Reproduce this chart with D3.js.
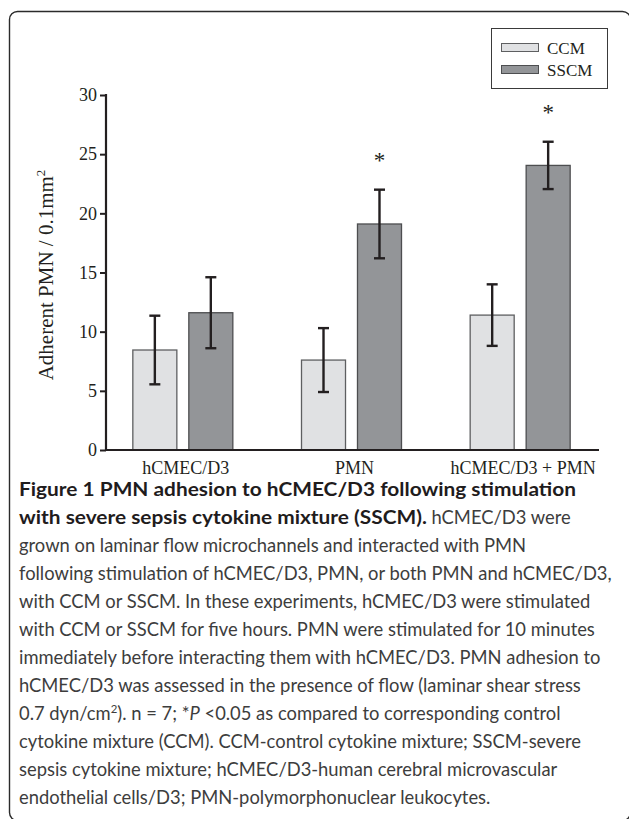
<!DOCTYPE html>
<html>
<head>
<meta charset="utf-8">
<script src="https://cdn.jsdelivr.net/npm/d3@7/dist/d3.min.js"></script>
<style>
  html, body { margin: 0; padding: 0; background: #fff; }
  svg { display: block; }
  text { white-space: pre; }
</style>
</head>
<body>
<svg id="chart" width="629" height="819"></svg>
<script>
// ---- data ----
const categories = ["hCMEC/D3", "PMN", "hCMEC/D3 + PMN"];
const seriesNames = ["CCM", "SSCM"];
const ccmValues = [8.45, 7.6, 11.4];
const ccmErrors = [2.9, 2.7, 2.6];
const sscmValues = [11.6, 19.1, 24.05];
const sscmErrors = [3.0, 2.9, 2.0];
const significant = [false, true, true]; // SSCM vs CCM
const yTicks = [0, 5, 10, 15, 20, 25, 30];

const captionLines = [
  [{t: "Figure 1 PMN adhesion to hCMEC/D3 following stimulation", b: true}],
  [{t: "with severe sepsis cytokine mixture (SSCM).", b: true}, {t: " hCMEC/D3 were"}],
  [{t: "grown on laminar flow microchannels and interacted with PMN"}],
  [{t: "following stimulation of hCMEC/D3, PMN, or both PMN and hCMEC/D3,"}],
  [{t: "with CCM or SSCM. In these experiments, hCMEC/D3 were stimulated"}],
  [{t: "with CCM or SSCM for five hours. PMN were stimulated for 10 minutes"}],
  [{t: "immediately before interacting them with hCMEC/D3. PMN adhesion to"}],
  [{t: "hCMEC/D3 was assessed in the presence of flow (laminar shear stress"}],
  [{t: "0.7 dyn/cm"}, {t: "2", sup: true}, {t: "). n = 7; *"}, {t: "P", i: true}, {t: " <0.05 as compared to corresponding control"}],
  [{t: "cytokine mixture (CCM). CCM-control cytokine mixture; SSCM-severe"}],
  [{t: "sepsis cytokine mixture; hCMEC/D3-human cerebral microvascular"}],
  [{t: "endothelial cells/D3; PMN-polymorphonuclear leukocytes."}]
];

const data = categories.map((c, i) => ({
  cat: c,
  vals: [
    {s: "CCM", v: ccmValues[i], e: ccmErrors[i]},
    {s: "SSCM", v: sscmValues[i], e: sscmErrors[i]}
  ],
  sig: significant[i]
}));

const svg = d3.select("#chart");
const serif = "'Liberation Serif', 'Times New Roman', serif";
const sans = "Lato, 'Open Sans', sans-serif";
const ink = "#231f20";

// ---- frame ----
svg.append("rect")
  .attr("x", 9.5).attr("y", 11.5)
  .attr("width", 621).attr("height", 809)
  .attr("rx", 8).attr("ry", 8)
  .attr("fill", "none").attr("stroke", "#2b2b2b").attr("stroke-width", 1.4);

// ---- scales ----
const axisLeft = 106, axisRight = 599, yTop = 95, yBottom = 450;
const y = d3.scaleLinear().domain([0, 30]).range([yBottom, yTop]);
const x0 = d3.scaleBand().domain(categories).range([98.5, 604.5]).paddingInner(0).paddingOuter(0);
const groupW = 101;
const x1 = d3.scaleBand().domain(seriesNames)
  .range([(x0.bandwidth() - groupW) / 2, (x0.bandwidth() + groupW) / 2])
  .paddingInner(0.196).paddingOuter(0);
const fills = {CCM: "#e0e1e3", SSCM: "#939598"};
const strokes = {CCM: "#5e5f61", SSCM: "#4d4e50"};

// ---- y axis ----
const yAxis = d3.axisLeft(y).tickValues(yTicks).tickSize(6).tickPadding(3).tickFormat(d3.format("d"));
const gy = svg.append("g").attr("transform", `translate(${axisLeft},0)`).call(yAxis);
gy.select(".domain").remove();
gy.selectAll(".tick line").attr("stroke", ink).attr("stroke-width", 2);
gy.selectAll(".tick text").attr("fill", ink).style("font-family", serif).style("font-size", "18px");
svg.append("line").attr("x1", axisLeft).attr("x2", axisLeft).attr("y1", yTop - 1).attr("y2", yBottom + 1)
  .attr("stroke", ink).attr("stroke-width", 2.2);

// ---- bars ----
const groups = svg.append("g").selectAll("g").data(data).join("g")
  .attr("transform", d => `translate(${x0(d.cat)},0)`);
groups.selectAll("rect").data(d => d.vals).join("rect")
  .attr("x", d => x1(d.s) + 0.5)
  .attr("y", d => y(d.v))
  .attr("width", x1.bandwidth() - 1)
  .attr("height", d => yBottom - y(d.v))
  .attr("fill", d => fills[d.s])
  .attr("stroke", d => strokes[d.s])
  .attr("stroke-width", 1.3);

// error bars
const cap = 5.5;
const eb = groups.selectAll("g.err").data(d => d.vals).join("g").attr("class", "err");
eb.append("line")
  .attr("x1", d => x1(d.s) + x1.bandwidth() / 2).attr("x2", d => x1(d.s) + x1.bandwidth() / 2)
  .attr("y1", d => y(d.v + d.e)).attr("y2", d => y(d.v - d.e));
eb.append("line")
  .attr("x1", d => x1(d.s) + x1.bandwidth() / 2 - cap).attr("x2", d => x1(d.s) + x1.bandwidth() / 2 + cap)
  .attr("y1", d => y(d.v + d.e)).attr("y2", d => y(d.v + d.e));
eb.append("line")
  .attr("x1", d => x1(d.s) + x1.bandwidth() / 2 - cap).attr("x2", d => x1(d.s) + x1.bandwidth() / 2 + cap)
  .attr("y1", d => y(d.v - d.e)).attr("y2", d => y(d.v - d.e));
eb.selectAll("line").attr("stroke", ink).attr("stroke-width", 2.4);

// significance asterisks
groups.filter(d => d.sig).append("text")
  .attr("x", x1("SSCM") + x1.bandwidth() / 2)
  .attr("y", d => y(d.vals[1].v + d.vals[1].e) - 22)
  .attr("text-anchor", "middle")
  .style("font-family", serif).style("font-size", "23px").attr("fill", ink)
  .text("*");

// ---- x axis ----
svg.append("line").attr("x1", axisLeft - 1).attr("x2", axisRight).attr("y1", yBottom).attr("y2", yBottom)
  .attr("stroke", ink).attr("stroke-width", 2.2);
svg.append("g").selectAll("text").data(categories).join("text")
  .attr("x", d => x0(d) + x0.bandwidth() / 2 + 3)
  .attr("y", 474)
  .attr("text-anchor", "middle")
  .style("font-family", serif).style("font-size", "18px").attr("fill", ink)
  .text(d => d);

// ---- y title ----
const yt = svg.append("text")
  .attr("transform", "translate(53,275) rotate(-90)")
  .attr("text-anchor", "middle")
  .style("font-family", serif).style("font-size", "21px").attr("fill", ink);
yt.append("tspan").text("Adherent PMN / 0.1mm");
yt.append("tspan").attr("dy", -8).style("font-size", "13px").text("2");

// ---- legend ----
const lg = svg.append("g");
lg.append("rect").attr("x", 491.5).attr("y", 28.5).attr("width", 116).attr("height", 60)
  .attr("fill", "#fff").attr("stroke", "#3a3a3a").attr("stroke-width", 1);
seriesNames.forEach((s, i) => {
  lg.append("rect").attr("x", 501.5).attr("y", 43.5 + i * 22).attr("width", 37).attr("height", 8)
    .attr("fill", fills[s]).attr("stroke", strokes[s]).attr("stroke-width", 1);
  lg.append("text").attr("x", 547).attr("y", 53.5 + i * 22)
    .style("font-family", serif).style("font-size", "17px").attr("fill", ink).text(s);
});

// ---- caption ----
const capX = 19, capY0 = 496, capDy = 28;
const capG = svg.append("g");
function measure(str, fs, bold, italic) {
  const t = capG.append("text").style("font-family", sans).style("font-size", fs + "px")
    .style("font-weight", bold ? "bold" : "normal").style("font-style", italic ? "italic" : "normal")
    .text(str);
  const w = t.node().getComputedTextLength();
  t.remove();
  return w;
}
const fs = 20 * (612 - capX) / measure(captionLines[3][0].t, 20, false, false);
const kb = (576 - capX) / measure(captionLines[0][0].t, fs, true, false);
captionLines.forEach((parts, i) => {
  const yy = capY0 + i * capDy;
  let cx = capX;
  parts.forEach(p => {
    const size = p.sup ? fs * 0.62 : fs;
    const w = measure(p.t, size, p.b, p.i);
    const t = capG.append("text")
      .attr("x", cx).attr("y", p.sup ? yy - fs * 0.38 : yy)
      .style("font-family", sans).style("font-size", size + "px")
      .style("font-weight", p.b ? "bold" : "normal")
      .style("font-style", p.i ? "italic" : "normal")
      .attr("fill", p.b ? "#1f1c1d" : "#3d3d3d")
      .text(p.t);
    let dw = w;
    if (p.b) { dw = w * kb; t.attr("textLength", dw).attr("lengthAdjust", "spacingAndGlyphs"); }
    cx += dw;
  });
});
</script>
</body>
</html>
